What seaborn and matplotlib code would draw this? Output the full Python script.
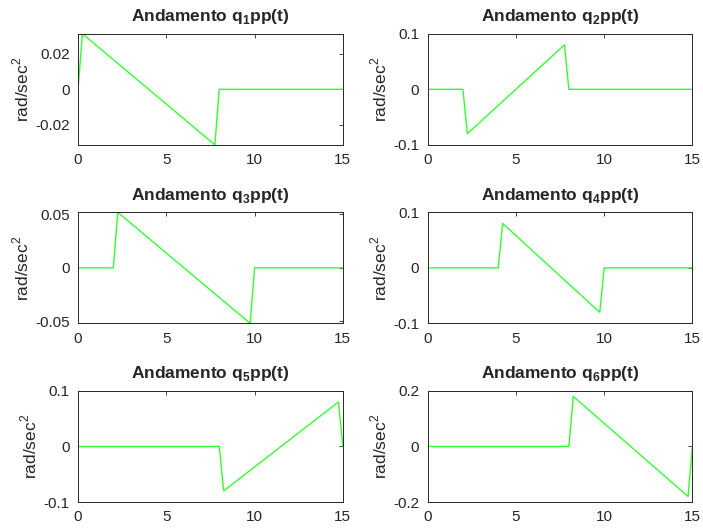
import numpy as np
import pandas as pd
import matplotlib
matplotlib.use("Agg")
import matplotlib.pyplot as plt
import seaborn as sns
from matplotlib.ticker import FuncFormatter

# joint acceleration profiles (t in sec, value in rad/sec^2)
t1 = [0, 0.25, 7.75, 8, 15]
q1 = [0, 0.0314, -0.0314, 0, 0]
t2 = [0, 2, 2.25, 7.75, 8, 15]
q2 = [0, 0, -0.08, 0.08, 0, 0]
t3 = [0, 2, 2.25, 9.75, 10, 15]
q3 = [0, 0, 0.0519, -0.0519, 0, 0]
t4 = [0, 4, 4.25, 9.75, 10, 15]
q4 = [0, 0, 0.08, -0.08, 0, 0]
t5 = [0, 8, 8.25, 14.75, 15]
q5 = [0, 0, -0.08, 0.08, 0]
t6 = [0, 8, 8.25, 14.75, 15]
q6 = [0, 0, 0.18, -0.18, 0]

times = [t1, t2, t3, t4, t5, t6]
values = [q1, q2, q3, q4, q5, q6]
ylims = [0.0314, 0.1, 0.0519, 0.1, 0.1, 0.2]
yticks = [[-0.02, 0, 0.02], [-0.1, 0, 0.1], [-0.05, 0, 0.05],
          [-0.1, 0, 0.1], [-0.1, 0, 0.1], [-0.2, 0, 0.2]]

sns.set_style("white")
plt.rcParams['font.family'] = ['Liberation Sans', 'DejaVu Sans']
plt.rcParams['axes.unicode_minus'] = False
plt.rcParams['mathtext.fontset'] = 'custom'
plt.rcParams['mathtext.rm'] = 'Liberation Sans'
plt.rcParams['mathtext.bf'] = 'Liberation Sans:bold'

axcol = (0.15, 0.15, 0.15)

fig, axes = plt.subplots(3, 2, figsize=(7.03, 5.31), dpi=100)
plt.subplots_adjust(left=0.111, right=0.985, top=0.9365, bottom=0.0546,
                    hspace=0.607, wspace=0.32)

for i, ax in enumerate(axes.flat):
    df = pd.DataFrame({"t": times[i], "q": values[i]})
    sns.lineplot(data=df, x="t", y="q", ax=ax, color=(0.2, 1.0, 0.2),
                 linewidth=1.0, sort=False, estimator=None)
    ax.set_xlim(0, 15)
    ax.set_ylim(-ylims[i], ylims[i])
    ax.set_xticks([0, 5, 10, 15])
    ax.set_yticks(yticks[i])
    ax.yaxis.set_major_formatter(FuncFormatter(lambda v, p: '%g' % round(v, 4)))
    ax.xaxis.set_major_formatter(FuncFormatter(lambda v, p: '%g' % v))
    ax.tick_params(direction='in', length=3, width=0.6, colors=axcol,
                   labelsize=11, top=True, right=True, pad=6,
                   labelcolor=axcol)
    for s in ax.spines.values():
        s.set_color(axcol)
        s.set_linewidth(0.7)
    ax.set_xlabel("")
    ax.set_ylabel(r"rad/sec$^2$", fontsize=12.5, color=axcol, labelpad=3)
    ax.set_title(r"Andamento q$_\mathbf{%d}$pp(t)" % (i + 1), fontsize=12.5,
                 fontweight='bold', pad=9)

fig.savefig("out.png", dpi=100)
